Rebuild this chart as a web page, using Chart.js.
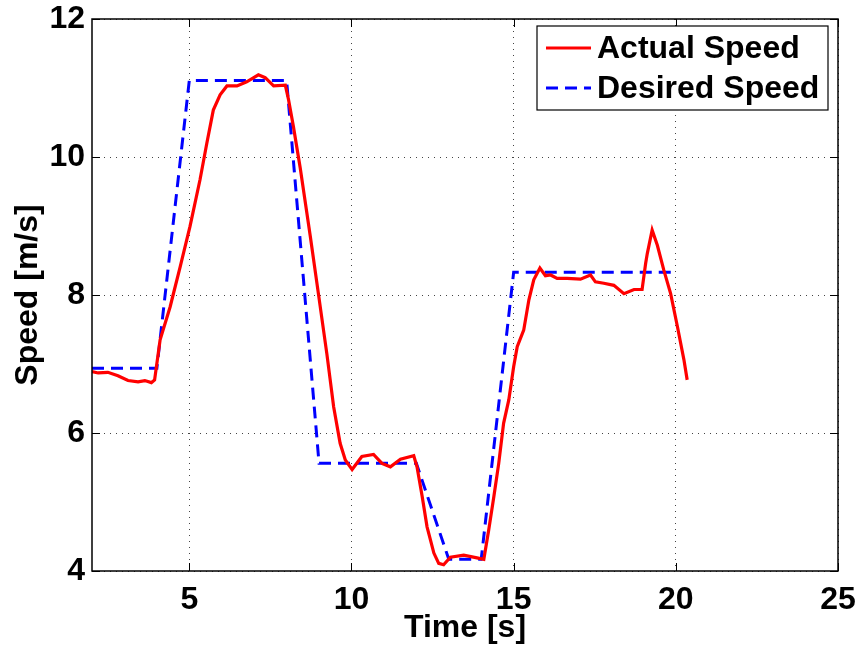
<!DOCTYPE html>
<html>
<head>
<meta charset="utf-8">
<script src="https://cdn.jsdelivr.net/npm/chart.js@4"></script>
<style>
  html, body { margin: 0; padding: 0; background: #fff; }
</style>
</head>
<body>
<canvas id="speedChart" width="856" height="647"></canvas>
<script>
// measured vehicle speed
const actualTime = [2.0, 2.19, 2.49, 2.80, 3.11, 3.42, 3.63, 3.83, 3.93, 4.10, 4.41, 4.50, 4.72, 5.02, 5.33,
  5.54, 5.74, 5.95, 6.16, 6.47, 6.77, 7.13, 7.34, 7.60, 7.96, 8.06, 8.21, 8.42, 8.73, 8.98,
  9.24, 9.45, 9.65, 9.81, 10.02, 10.32, 10.68, 10.94, 11.20, 11.51, 11.92, 12.02, 12.18, 12.33, 12.54,
  12.69, 12.84, 13.05, 13.46, 13.87, 14.08, 14.23, 14.39, 14.54, 14.69, 14.85, 15.00, 15.11, 15.31, 15.47,
  15.62, 15.81, 15.98, 16.14, 16.34, 16.65, 17.06, 17.37, 17.52, 17.78, 18.09, 18.40, 18.71, 18.96, 19.07,
  19.12, 19.27, 19.43, 19.63, 19.84, 20.05, 20.25, 20.35];
const actualSpeed = [6.89, 6.87, 6.88, 6.83, 6.76, 6.74, 6.76, 6.73, 6.77, 7.35, 7.83, 8.00, 8.41, 8.99, 9.67,
  10.20, 10.68, 10.90, 11.03, 11.03, 11.09, 11.19, 11.15, 11.03, 11.04, 10.83, 10.44, 9.84, 8.85, 8.02,
  7.15, 6.38, 5.85, 5.61, 5.47, 5.66, 5.69, 5.56, 5.51, 5.62, 5.67, 5.51, 5.08, 4.64, 4.26,
  4.11, 4.09, 4.20, 4.23, 4.19, 4.17, 4.59, 5.08, 5.56, 6.14, 6.48, 6.96, 7.25, 7.49, 7.93,
  8.22, 8.39, 8.28, 8.29, 8.24, 8.24, 8.23, 8.29, 8.19, 8.17, 8.14, 8.02, 8.08, 8.08, 8.46,
  8.60, 8.94, 8.72, 8.36, 8.02, 7.54, 7.06, 6.77];

// speed set-point profile
const desiredTime = [2, 4, 5, 8, 9, 12, 13, 14, 15, 20];
const desiredSpeed = [6.94, 6.94, 11.11, 11.11, 5.56, 5.56, 4.17, 4.17, 8.33, 8.33];

const xTicks = [5, 10, 15, 20, 25];
const yTicks = [4, 6, 8, 10, 12];
const seriesNames = ['Actual Speed', 'Desired Speed'];

const FONT = "'Liberation Sans', Arial, Helvetica, sans-serif";

function pairs(xs, ys) {
  return xs.map((x, i) => ({ x: x, y: ys[i] }));
}

// axes box, inward tick marks and the boxed legend
const framePlugin = {
  id: 'frame',
  afterDatasetsDraw(chart) {
    const ctx = chart.ctx;
    const a = chart.chartArea;
    const xs = chart.scales.x;
    const ys = chart.scales.y;
    ctx.save();
    ctx.strokeStyle = '#000';
    ctx.lineWidth = 1.5;
    ctx.strokeRect(a.left, a.top, a.right - a.left, a.bottom - a.top);
    ctx.lineWidth = 1;
    const tl = 8;
    ctx.beginPath();
    xTicks.forEach(v => {
      const px = Math.round(xs.getPixelForValue(v)) + 0.5;
      ctx.moveTo(px, a.bottom); ctx.lineTo(px, a.bottom - tl);
      ctx.moveTo(px, a.top); ctx.lineTo(px, a.top + tl);
    });
    yTicks.forEach(v => {
      const py = Math.round(ys.getPixelForValue(v)) + 0.5;
      ctx.moveTo(a.left, py); ctx.lineTo(a.left + tl, py);
      ctx.moveTo(a.right, py); ctx.lineTo(a.right - tl, py);
    });
    ctx.stroke();

    // legend
    const bx = a.right - 301, by = a.top + 7, bw = 291, bh = 84;
    ctx.fillStyle = '#fff';
    ctx.fillRect(bx, by, bw, bh);
    ctx.lineWidth = 1.2;
    ctx.strokeRect(bx, by, bw, bh);
    ctx.font = 'bold 32px ' + FONT;
    ctx.textBaseline = 'middle';
    ctx.textAlign = 'left';
    chart.data.datasets.forEach((ds, i) => {
      const ly = by + 22 + i * 40;
      ctx.beginPath();
      ctx.strokeStyle = ds.borderColor;
      ctx.lineWidth = ds.borderWidth;
      ctx.setLineDash(ds.borderDash || []);
      ctx.moveTo(bx + 9, ly);
      ctx.lineTo(bx + 54, ly);
      ctx.stroke();
      ctx.setLineDash([]);
      ctx.fillStyle = '#000';
      ctx.fillText(ds.label, bx + 60, ly + 1);
    });
    ctx.restore();
  }
};

new Chart(document.getElementById('speedChart'), {
  type: 'scatter',
  data: {
    datasets: [
      {
        label: seriesNames[0],
        data: pairs(actualTime, actualSpeed),
        showLine: true,
        borderColor: '#ff0000',
        borderWidth: 3.2,
        pointRadius: 0,
        tension: 0
      },
      {
        label: seriesNames[1],
        data: pairs(desiredTime, desiredSpeed),
        showLine: true,
        borderColor: '#0000ff',
        borderWidth: 3,
        borderDash: [12, 7],
        pointRadius: 0,
        tension: 0
      }
    ]
  },
  options: {
    responsive: false,
    animation: false,
    layout: { padding: { top: 19, right: 18, left: 0, bottom: 0 } },
    plugins: {
      legend: { display: false },
      tooltip: { enabled: false }
    },
    scales: {
      x: {
        type: 'linear',
        min: 2,
        max: 25,
        afterBuildTicks: s => { s.ticks = xTicks.map(v => ({ value: v })); },
        afterFit: s => { s.height = 76; s.paddingLeft = 0; s.paddingRight = 0; },
        grid: { color: '#444', lineWidth: 1, drawTicks: false },
        border: { display: false, dash: [1, 5] },
        ticks: { color: '#000', font: { family: FONT, size: 32, weight: 'bold' }, padding: 10, maxRotation: 0 },
        title: { display: true, text: 'Time [s]', color: '#000', font: { family: FONT, size: 32, weight: 'bold' }, padding: 0 }
      },
      y: {
        type: 'linear',
        min: 4,
        max: 12,
        afterBuildTicks: s => { s.ticks = yTicks.map(v => ({ value: v })); },
        afterFit: s => { s.width = 92; s.paddingTop = 0; s.paddingBottom = 0; },
        grid: { color: '#444', lineWidth: 1, drawTicks: false },
        border: { display: false, dash: [1, 5] },
        ticks: { color: '#000', font: { family: FONT, size: 32, weight: 'bold' }, padding: 7 },
        title: { display: true, text: 'Speed [m/s]', color: '#000', font: { family: FONT, size: 32, weight: 'bold' }, padding: { top: 9, bottom: 0 } }
      }
    }
  },
  plugins: [framePlugin]
});
</script>
</body>
</html>
